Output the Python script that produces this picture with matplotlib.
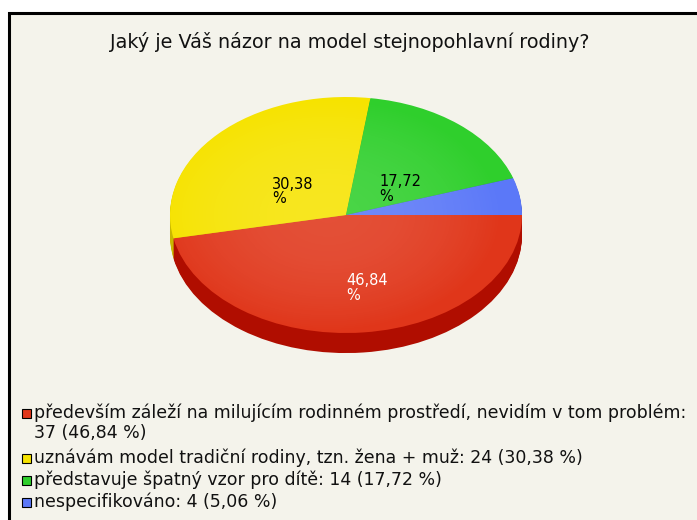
import matplotlib
matplotlib.use("Agg")
import matplotlib.pyplot as plt
import matplotlib.patches as patches
import numpy as np

# data
title = "Jaký je Váš názor na model stejnopohlavní rodiny?"
categories = [
    "především záleží na milujícím rodinném prostředí, nevidím v tom problém:",
    "uznávám model tradiční rodiny, tzn. žena + muž:",
    "představuje špatný vzor pro dítě:",
    "nespecifikováno:",
]
counts = [37, 24, 14, 4]
top_colors = ["#e0361a", "#f6e300", "#2fcf2c", "#5b78f8"]
side_colors = ["#b00d00", "#c9b800", "#1e9a1c", "#3a52c0"]
label_colors = ["white", "black", "black", None]

total = sum(counts)
pcts = [c / total * 100 for c in counts]

def fmt(v):
    return f"{v:.2f}".replace(".", ",")

W, H = 697, 520
fig = plt.figure(figsize=(W / 100, H / 100), dpi=100)
fig.patch.set_facecolor("white")
bg = "#f4f3eb"

# panel with black frame
frame = patches.Rectangle((9 / W, -0.05), 1.0, (H - 13) / H + 0.05,
                          transform=fig.transFigure, facecolor=bg,
                          edgecolor="black", linewidth=2.2, zorder=-5)
fig.patches.append(frame)

fig.text(350 / W, 1 - 42 / H, title, ha="center", va="center",
         fontsize=13.8, family="DejaVu Sans", color="#111111")

# pie axes: centre (346,215) px, rx 176, ry 118
cx, cy, rx, ry = 346, 215, 176, 118
x0, x1, y0, y1 = -1.1, 1.1, -1.4, 1.1
ax = fig.add_axes([(cx + x0 * rx) / W, (H - (cy - y0 * ry)) / H,
                   (x1 - x0) * rx / W, (y1 - y0) * ry / H], zorder=2)
ax.set_facecolor("none")

depth = 0.17
n = 20
for k in range(n, 0, -1):
    ax.pie(counts, colors=side_colors, startangle=0, counterclock=False,
           center=(0, -depth * k / n), radius=1,
           wedgeprops=dict(linewidth=0))
wedges, _ = ax.pie(counts, colors=top_colors, startangle=0, counterclock=False,
                   center=(0, 0), radius=1, wedgeprops=dict(linewidth=0))

# soft highlight on the top face
gx, gy = np.meshgrid(np.linspace(-1, 1, 200), np.linspace(-1, 1, 200))
rr = np.clip(np.hypot(gx + 0.1, gy), 0, 1)
glow = np.zeros((200, 200, 4))
glow[..., :3] = 1.0
glow[..., 3] = 0.13 * (1 - rr ** 2)
img = ax.imshow(glow, extent=(-1, 1, -1, 1), origin="lower", zorder=3,
                interpolation="bilinear")
clip = patches.Circle((0, 0), 1, transform=ax.transData)
img.set_clip_path(clip)

ax.set_aspect("auto")
ax.set_xlim(x0, x1)
ax.set_ylim(y0, y1)
ax.axis("off")

# labels on slices
label_pos = [(0.0, -0.62), (-0.42, 0.20), (0.19, 0.22), None]
for p, pos, col in zip(pcts, label_pos, label_colors):
    if pos is None:
        continue
    ax.text(pos[0], pos[1], f"{fmt(p)}\n%", ha="left", va="center",
            fontsize=10.5, family="DejaVu Sans", color=col,
            linespacing=0.95, zorder=4)

# legend
labels = []
for cat, c, p in zip(categories, counts, pcts):
    labels.append(f"{cat} {c} ({fmt(p)} %)")
# first label wraps
labels[0] = labels[0].replace("problém: ", "problém:\n")
ys = [413, 458, 480, 502]
for lab, col, y in zip(labels, top_colors, ys):
    sq = patches.Rectangle((22 / W, 1 - (y + 4.5) / H), 9 / W, 9 / H,
                           transform=fig.transFigure, facecolor=col,
                           edgecolor="black", linewidth=0.8)
    fig.patches.append(sq)
    if "\n" in lab:
        fig.text(34 / W, 1 - (y - 10) / H, lab, ha="left", va="top",
                 fontsize=12.5, family="DejaVu Sans", color="#111111",
                 linespacing=1.15)
    else:
        fig.text(34 / W, 1 - y / H, lab, ha="left", va="center",
                 fontsize=12.5, family="DejaVu Sans", color="#111111")

fig.savefig("out.png", dpi=100, facecolor=fig.get_facecolor())
